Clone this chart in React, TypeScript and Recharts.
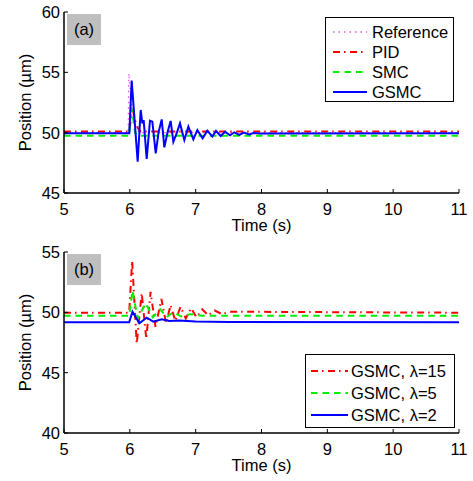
import { LineChart, Line, XAxis, YAxis } from "recharts"

const FONT = '"Liberation Sans", Arial, Helvetica, sans-serif'

const timeTicks = [5, 6, 7, 8, 9, 10, 11]
const topTicks = [45, 50, 55, 60]
const bottomTicks = [40, 45, 50, 55]

// panel (a)
const refTime = [5, 5.975, 5.985, 6.0, 6.03, 6.06, 6.1, 6.15, 11]
const refPos = [50, 50, 54.9, 54.0, 52.3, 51.0, 50.3, 50, 50]

const pidTime = [5, 5.99, 6.02, 6.05, 6.08, 6.12, 6.16, 11]
const pidPos = [50.1, 50.1, 51.3, 51.8, 51.0, 50.4, 50.1, 50.1]

const smcTime = [5, 5.99, 6.02, 6.05, 6.08, 6.12, 11]
const smcPos = [49.75, 49.75, 52.1, 51.2, 50.0, 49.75, 49.75]

const gsmcTime = [
  5, 5.992, 6.028, 6.119, 6.165, 6.19, 6.21, 6.256, 6.306, 6.342, 6.393, 6.438, 6.484, 6.524, 6.575, 6.62, 6.661,
  6.711, 6.762, 6.828, 6.889, 6.965, 7.025, 7.106, 7.177, 7.253, 7.309, 7.38, 7.446, 7.522, 7.587, 7.663, 7.734,
  7.81, 7.876, 7.977, 11,
]
const gsmcPos = [
  49.95, 49.95, 54.31, 47.6, 51.88, 50.77, 51.05, 47.82, 50.99, 50.91, 48.29, 50.08, 51.1, 48.78, 50.08, 50.97, 49.25,
  49.94, 50.77, 49.39, 50.5, 49.45, 50.22, 49.53, 50.17, 49.67, 50.14, 49.72, 50.08, 49.78, 50.03, 49.81, 50.0,
  49.86, 49.97, 49.93, 49.95,
]

// panel (b)
const lam15Time = [5, 5.99, 6.035, 6.105, 6.18, 6.25, 6.315, 6.39, 6.48, 6.55, 6.62, 6.69, 6.77, 6.85, 6.93, 7.01, 7.1, 7.19, 7.29, 7.4, 7.52, 11]
const lam15Pos = [49.97, 49.97, 54.3, 47.4, 51.6, 47.8, 51.7, 48.8, 51.1, 49.1, 50.6, 49.3, 50.45, 49.5, 50.35, 49.6, 50.25, 49.75, 50.15, 49.85, 50.05, 49.97]

const lam5Time = [5, 5.99, 6.04, 6.12, 6.24, 6.35, 6.46, 6.56, 6.66, 6.78, 6.92, 7.1, 11]
const lam5Pos = [49.72, 49.72, 51.8, 49.5, 50.75, 49.6, 50.25, 49.6, 50.0, 49.65, 49.85, 49.72, 49.72]

const lam2Time = [5, 5.99, 6.04, 6.144, 6.256, 6.357, 6.484, 6.6, 6.75, 7.0, 7.5, 11]
const lam2Pos = [49.17, 49.17, 50.05, 49.09, 49.56, 49.23, 49.42, 49.28, 49.32, 49.25, 49.2, 49.17]

type Series = { name: string; t: number[]; y: number[]; color: string; dash?: string; width: number }

const topSeries: Series[] = [
  { name: "Reference", t: refTime, y: refPos, color: "#f050f0", dash: "1.5 4", width: 1.3 },
  { name: "PID", t: pidTime, y: pidPos, color: "#ff0000", dash: "7 4 1.5 4.5", width: 2 },
  { name: "SMC", t: smcTime, y: smcPos, color: "#00ee00", dash: "6.5 5", width: 2 },
  { name: "GSMC", t: gsmcTime, y: gsmcPos, color: "#0000ff", width: 2 },
]

const bottomSeries: Series[] = [
  { name: "GSMC, λ=15", t: lam15Time, y: lam15Pos, color: "#ff0000", dash: "7 4 1.5 4.5", width: 2 },
  { name: "GSMC, λ=5", t: lam5Time, y: lam5Pos, color: "#00ee00", dash: "6.5 5", width: 2 },
  { name: "GSMC, λ=2", t: lam2Time, y: lam2Pos, color: "#0000ff", width: 2 },
]

const tickStyle = { fill: "#000", fontSize: 16.5, fontFamily: FONT }
const axisLine = { stroke: "#000", strokeWidth: 1.5 }
const tickLine = { stroke: "#000", strokeWidth: 1 }

function Legend({ series, left, top, width, height, rows, sampleX, sampleW, textX }: {
  series: Series[]; left: number; top: number; width: number; height: number; rows: number[];
  sampleX: number; sampleW: number; textX: number
}) {
  return (
    <div style={{ position: "absolute", left, top, width, height, border: "1.5px solid #000", background: "#fff", boxSizing: "border-box" }}>
      {series.map((s, i) => (
        <div key={s.name} style={{ position: "absolute", left: 0, top: rows[i] - 10, height: 20, width: "100%" }}>
          <svg width={sampleX + sampleW} height={20} style={{ position: "absolute", left: 0, top: 0 }}>
            <line x1={sampleX} x2={sampleX + sampleW} y1={10} y2={10} stroke={s.color} strokeWidth={s.width} strokeDasharray={s.dash} />
          </svg>
          <span style={{ position: "absolute", left: textX, top: 0, lineHeight: "20px", fontSize: 16.5, fontFamily: FONT, whiteSpace: "nowrap" }}>
            {s.name}
          </span>
        </div>
      ))}
    </div>
  )
}

function Panel({ series, domain, ticks, tag }: { series: Series[]; domain: [number, number]; ticks: number[]; tag: string }) {
  return (
    <div style={{ position: "relative", width: 473, height: 240 }}>
      <LineChart width={473} height={240} margin={{ top: 12, right: 14, bottom: 0, left: 0 }}>
        <XAxis
          type="number"
          dataKey="t"
          domain={[5, 11]}
          ticks={timeTicks}
          interval={0}
          allowDataOverflow
          height={47}
          tick={tickStyle}
          tickSize={-4}
          tickMargin={14}
          axisLine={axisLine}
          tickLine={tickLine}
          label={{ value: "Time (s)", position: "insideBottom", offset: 9, fill: "#000", fontSize: 16.5, fontFamily: FONT }}
        />
        <XAxis xAxisId="top" orientation="top" type="number" domain={[5, 11]} ticks={timeTicks} interval={0} height={0} tick={false} tickSize={-4} axisLine={axisLine} tickLine={tickLine} />
        <YAxis
          type="number"
          domain={domain}
          ticks={ticks}
          interval={0}
          allowDataOverflow
          width={64}
          tick={tickStyle}
          tickSize={-4}
          tickMargin={8}
          axisLine={axisLine}
          tickLine={tickLine}
          label={{ value: "Position (\u00b5m)", angle: -90, position: "center", dx: -7, fill: "#000", fontSize: 16.5, fontFamily: FONT }}
        />
        <YAxis yAxisId="right" orientation="right" type="number" domain={domain} ticks={ticks} interval={0} width={0} tick={false} tickSize={-4} axisLine={axisLine} tickLine={tickLine} />
        {series.map((s) => (
          <Line
            key={s.name}
            data={s.t.map((t, i) => ({ t, y: s.y[i] }))}
            dataKey="y"
            type="linear"
            stroke={s.color}
            strokeWidth={s.width}
            strokeDasharray={s.dash}
            dot={false}
            activeDot={false}
            isAnimationActive={false}
          />
        ))}
      </LineChart>
      <div style={{ position: "absolute", left: 67, top: 14, width: 34, height: 31, background: "#bfbfbf", fontSize: 16.5, fontFamily: FONT, lineHeight: "31px", textAlign: "center" }}>
        {tag}
      </div>
    </div>
  )
}

export default function App() {
  return (
    <div style={{ position: "absolute", left: 0, top: 0, width: 473, height: 481, background: "#fff" }}>
      <div style={{ position: "absolute", left: 0, top: 0 }}>
        <Panel series={topSeries} domain={[45, 60]} ticks={topTicks} tag="(a)" />
        <Legend series={topSeries} left={325} top={17} width={129} height={85} rows={[14, 34, 54, 74]} sampleX={7} sampleW={34} textX={46} />
      </div>
      <div style={{ position: "absolute", left: 0, top: 240 }}>
        <Panel series={bottomSeries} domain={[40, 55]} ticks={bottomTicks} tag="(b)" />
        <Legend series={bottomSeries} left={305} top={114} width={150} height={74} rows={[16, 38, 60]} sampleX={5} sampleW={37} textX={45} />
      </div>
    </div>
  )
}
